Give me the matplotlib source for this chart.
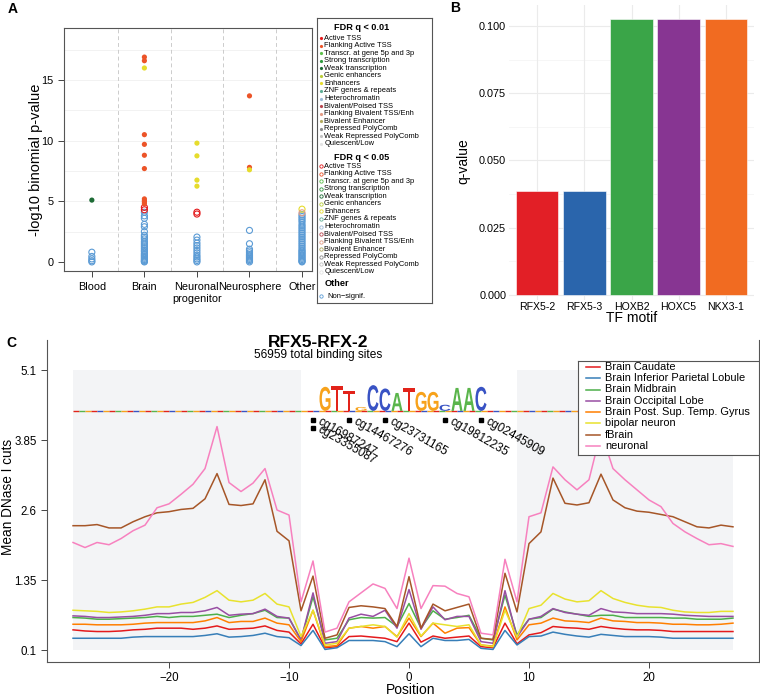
import numpy as np
import matplotlib
matplotlib.use('Agg')
import matplotlib.pyplot as plt
from matplotlib.textpath import TextPath
from matplotlib.patches import PathPatch, Rectangle
from matplotlib.font_manager import FontProperties
from matplotlib.transforms import Affine2D
from matplotlib.collections import LineCollection

plt.rcParams['font.family'] = ['Liberation Sans', 'DejaVu Sans']

# ---------------- DATA ----------------
# Panel A
a_categories = ["Blood", "Brain", "Neuronal\nprogenitor", "Neurosphere", "Other"]
a_states = ["Active TSS", "Flanking Active TSS", "Transcr. at gene 5p and 3p",
            "Strong transcription", "Weak transcription", "Genic enhancers",
            "Enhancers", "ZNF genes & repeats", "Heterochromatin",
            "Bivalent/Poised TSS", "Flanking Bivalent TSS/Enh", "Bivalent Enhancer",
            "Repressed PolyComb", "Weak Repressed PolyComb", "Quiescent/Low"]
a_state_colors = ["#e41a1c", "#ec5428", "#5cbf4a", "#2f9a3e", "#1d6b35", "#b9cc3a",
                  "#e6dc2c", "#5fae96", "#9bbad8", "#b8464f", "#e39b84", "#b3aa5e",
                  "#8a8a8a", "#c4c4c4", "#e4e4e4"]
a_nonsig_color = "#5b9bd5"

a_sig01_cat = [0, 1, 1, 1, 1, 1, 1, 1, 1, 1, 1, 1, 2, 2, 2, 2, 3, 3, 3]
a_sig01_val = [5.1, 16.9, 16.6, 10.5, 9.7, 8.8, 7.7, 5.2, 5.05, 4.95, 4.8, 16.0,
               9.8, 8.75, 6.75, 6.25, 13.7, 7.8, 7.6]
a_sig01_state = [4, 1, 1, 1, 1, 1, 1, 1, 1, 1, 1, 6, 6, 6, 6, 6, 1, 1, 6]

a_sig05_cat = [1, 1, 2, 2, 4, 4]
a_sig05_val = [4.5, 4.3, 4.1, 3.95, 4.35, 4.05]
a_sig05_state = [0, 0, 0, 0, 6, 10]

a_ns_blood = [0.0, 0.1, 0.25, 0.45, 0.8]
a_ns_brain = [4.1, 3.8, 3.6, 3.1, 2.9, 2.5, 2.2, 2.05, 1.9, 1.7, 1.55, 1.4, 1.25, 1.1,
              0.95, 0.85, 0.7, 0.6, 0.5, 0.4, 0.3, 0.2, 0.12, 0.05, 0.0]
a_ns_neuronal = [2.05, 1.8, 1.55, 1.35, 1.15, 0.95, 0.75, 0.55, 0.4, 0.25, 0.12, 0.0]
a_ns_neurosphere = [2.6, 1.5, 1.05, 0.9, 0.75, 0.6, 0.5, 0.4, 0.3, 0.2, 0.1, 0.0]
a_ns_other = [3.9, 3.75, 3.6, 3.45, 3.3, 3.1, 2.95, 2.8, 2.65, 2.5, 2.35, 2.2, 2.05,
              1.9, 1.75, 1.6, 1.45, 1.3, 1.15, 1.0, 0.9, 0.8, 0.7, 0.6, 0.5, 0.4,
              0.3, 0.2, 0.1, 0.05, 0.0]

# Panel B
b_motifs = ["RFX5-2", "RFX5-3", "HOXB2", "HOXC5", "NKX3-1"]
b_qvalues = [0.0386, 0.0386, 0.1025, 0.1025, 0.1025]
b_colors = ["#e21f26", "#2a65ac", "#3aa548", "#873592", "#f16b21"]

# Panel C
c_positions = list(range(-28, 28))
c_labels = ["Brain Caudate", "Brain Inferior Parietal Lobule", "Brain Midbrain",
            "Brain Occipital Lobe", "Brain Post. Sup. Temp. Gyrus", "bipolar neuron",
            "fBrain", "neuronal"]
c_colors = ["#e41a1c", "#377eb8", "#4daf4a", "#984ea3", "#ff7f00", "#e8e22e",
            "#a65628", "#f781bf"]
c_caudate = [0.46, 0.44, 0.43, 0.43, 0.44, 0.46, 0.47, 0.49, 0.49, 0.49, 0.47, 0.49,
             0.53, 0.47, 0.48, 0.49, 0.53, 0.45, 0.42, 0.21, 0.56, 0.14, 0.16, 0.34,
             0.35, 0.33, 0.31, 0.25, 0.58, 0.24, 0.35, 0.31, 0.33, 0.35, 0.16, 0.14,
             0.58, 0.21, 0.37, 0.41, 0.52, 0.50, 0.49, 0.47, 0.52, 0.49, 0.47, 0.46,
             0.46, 0.45, 0.43, 0.43, 0.43, 0.43, 0.43, 0.43]
c_parietal = [0.31, 0.31, 0.31, 0.31, 0.31, 0.33, 0.34, 0.34, 0.34, 0.34, 0.34, 0.36,
              0.39, 0.33, 0.34, 0.36, 0.40, 0.34, 0.32, 0.18, 0.45, 0.11, 0.14, 0.27,
              0.27, 0.27, 0.25, 0.16, 0.39, 0.16, 0.31, 0.27, 0.27, 0.29, 0.13, 0.11,
              0.45, 0.19, 0.34, 0.35, 0.42, 0.38, 0.35, 0.33, 0.38, 0.36, 0.34, 0.34,
              0.34, 0.33, 0.31, 0.31, 0.31, 0.31, 0.31, 0.31]
c_midbrain = [0.68, 0.67, 0.65, 0.65, 0.66, 0.67, 0.68, 0.70, 0.68, 0.70, 0.70, 0.72,
              0.74, 0.68, 0.72, 0.75, 0.81, 0.68, 0.67, 0.28, 1.05, 0.28, 0.31, 0.64,
              0.68, 0.67, 0.68, 0.52, 0.93, 0.49, 0.80, 0.65, 0.68, 0.72, 0.31, 0.28,
              1.08, 0.37, 0.65, 0.68, 0.83, 0.78, 0.74, 0.70, 0.72, 0.72, 0.68, 0.68,
              0.68, 0.68, 0.67, 0.67, 0.65, 0.65, 0.65, 0.67]
c_occipital = [0.71, 0.70, 0.68, 0.68, 0.69, 0.70, 0.72, 0.75, 0.75, 0.77, 0.77, 0.80,
               0.86, 0.72, 0.74, 0.75, 0.83, 0.70, 0.67, 0.28, 1.12, 0.22, 0.25, 0.67,
               0.74, 0.70, 0.81, 0.49, 1.18, 0.47, 0.87, 0.64, 0.70, 0.70, 0.25, 0.22,
               1.16, 0.33, 0.65, 0.70, 0.84, 0.77, 0.74, 0.72, 0.84, 0.78, 0.77, 0.75,
               0.75, 0.75, 0.74, 0.72, 0.71, 0.70, 0.70, 0.70]
c_temporal = [0.56, 0.56, 0.55, 0.55, 0.55, 0.56, 0.58, 0.59, 0.59, 0.59, 0.59, 0.62,
              0.68, 0.59, 0.61, 0.61, 0.67, 0.58, 0.55, 0.25, 0.81, 0.16, 0.18, 0.49,
              0.52, 0.49, 0.52, 0.34, 0.67, 0.34, 0.58, 0.40, 0.49, 0.50, 0.19, 0.17,
              0.87, 0.28, 0.55, 0.58, 0.67, 0.62, 0.61, 0.59, 0.67, 0.62, 0.61, 0.59,
              0.59, 0.58, 0.56, 0.56, 0.55, 0.55, 0.56, 0.58]
c_bipolar = [0.81, 0.80, 0.79, 0.77, 0.78, 0.80, 0.83, 0.87, 0.87, 0.92, 0.95, 1.04,
             1.16, 0.99, 0.96, 0.99, 1.11, 0.92, 0.87, 0.34, 0.81, 0.19, 0.22, 0.49,
             0.52, 0.55, 0.52, 0.33, 0.75, 0.35, 0.58, 0.55, 0.52, 0.55, 0.19, 0.16,
             0.81, 0.33, 0.84, 0.90, 1.11, 1.01, 0.96, 0.98, 1.16, 1.02, 0.95, 0.90,
             0.87, 0.86, 0.81, 0.78, 0.77, 0.77, 0.79, 0.79]
c_fbrain = [2.32, 2.32, 2.34, 2.28, 2.28, 2.39, 2.48, 2.55, 2.57, 2.61, 2.63, 2.80,
            3.25, 2.70, 2.68, 2.71, 3.14, 2.22, 2.05, 0.80, 1.42, 0.31, 0.37, 0.86,
            0.89, 0.87, 0.84, 0.52, 1.41, 0.49, 0.92, 0.80, 0.86, 0.92, 0.31, 0.29,
            1.47, 0.78, 2.00, 2.21, 3.17, 2.72, 2.69, 2.73, 3.24, 2.78, 2.64, 2.58,
            2.56, 2.52, 2.48, 2.39, 2.30, 2.28, 2.33, 2.30]
c_neuronal = [2.02, 1.93, 2.02, 1.98, 2.09, 2.23, 2.33, 2.64, 2.71, 2.88, 3.06, 3.34,
              4.09, 3.09, 2.93, 3.08, 3.34, 2.60, 2.51, 0.96, 1.69, 0.42, 0.49, 0.96,
              1.12, 1.28, 1.20, 0.84, 1.74, 0.84, 1.25, 1.24, 1.11, 1.05, 0.40, 0.37,
              1.72, 0.96, 2.48, 2.55, 3.37, 3.14, 2.96, 3.14, 4.00, 3.34, 3.14, 2.96,
              2.78, 2.66, 2.36, 2.21, 2.09, 1.98, 2.00, 1.95]
c_series = [c_caudate, c_parietal, c_midbrain, c_occipital, c_temporal, c_bipolar,
            c_fbrain, c_neuronal]
c_flanks = [(-28, -9), (9, 27)]
c_yticks = [0.1, 1.35, 2.6, 3.85, 5.1]

# motif logo
logo_pos = [-7, -6, -5, -4, -3, -2, -1, 0, 1, 2, 3, 4, 5, 6]
logo_letters = ["G", "T", "T", "G", "C", "C", "A", "T", "G", "G", "C", "A", "A", "C"]
logo_heights = [0.43, 0.45, 0.36, 0.07, 0.46, 0.40, 0.32, 0.40, 0.34, 0.34, 0.11,
                0.41, 0.41, 0.43]
logo_colors = {"A": "#5ab54b", "C": "#3953c4", "G": "#f7a21b", "T": "#e2231a"}
logo_base = 4.37

cpg_names = ["cg16987247", "cg23355087", "cg14467276", "cg23731165", "cg19812235",
             "cg02445909"]
cpg_pos = [-8, -8, -5, -2, 3, 6]
cpg_row = [0, 1, 0, 0, 0, 0]

# ---------------- FIGURE ----------------
W, H = 760, 697
fig = plt.figure(figsize=(7.6, 6.97), dpi=100)


def fr(x0, y0, x1, y1):
    return [x0 / W, 1 - y1 / H, (x1 - x0) / W, (y1 - y0) / H]


# ---------- Panel A ----------
axA = fig.add_axes(fr(64, 28, 312, 271))
axA.set_xlim(0.47, 5.19)
axA.set_ylim(-0.75, 19.3)
for yv in [2.5, 5, 7.5, 10, 12.5, 15, 17.5]:
    axA.axhline(yv, color='#f0f0f0', lw=0.6, zorder=0)
for xv in [1.5, 2.5, 3.5, 4.5]:
    axA.axvline(xv, color='#cccccc', ls=(0, (4, 3)), lw=0.7, zorder=0)

ns_groups = [a_ns_blood, a_ns_brain, a_ns_neuronal, a_ns_neurosphere, a_ns_other]
for i, vals in enumerate(ns_groups):
    axA.scatter([i + 1] * len(vals), vals, s=19, facecolors='none',
                edgecolors=a_nonsig_color, linewidths=0.8, zorder=2)
axA.scatter([c + 1 for c in a_sig05_cat], a_sig05_val, s=19, facecolors='none',
            edgecolors=[a_state_colors[s] for s in a_sig05_state], linewidths=0.8,
            zorder=3)
axA.scatter([c + 1 for c in a_sig01_cat], a_sig01_val, s=14,
            c=[a_state_colors[s] for s in a_sig01_state], edgecolors='none', zorder=4)

axA.set_xticks(range(1, 6))
axA.set_xticklabels(a_categories, fontsize=7.5)
axA.set_yticks([0, 5, 10, 15])
axA.tick_params(axis='both', labelsize=7.8, length=4, width=0.7, color='#444444')
axA.tick_params(axis='x', pad=4)
for s in axA.spines.values():
    s.set_linewidth(0.8)
    s.set_color('#555555')
fig.text(36 / W, 1 - 160 / H, "-log10 binomial p-value", ha='center', va='center',
         fontsize=10.5, rotation=90)

# legend A
axL = fig.add_axes(fr(317, 18, 432, 303))
axL.set_xlim(0, 115)
axL.set_ylim(285, 0)
axL.set_xticks([])
axL.set_yticks([])
for s in axL.spines.values():
    s.set_linewidth(0.8)
    s.set_color('#555555')
axL.text(45, 9, "FDR q < 0.01", ha='center', va='center', fontsize=6.6, weight='bold')
axL.text(45, 139, "FDR q < 0.05", ha='center', va='center', fontsize=6.6, weight='bold')
axL.text(20, 266, "Other", ha='center', va='center', fontsize=6.6, weight='bold')
for i, (name, col) in enumerate(zip(a_states, a_state_colors)):
    y1 = 20 + 7.57 * i
    y2 = 148 + 7.57 * i
    axL.plot(4, y1, 'o', ms=2.3, color=col, mec='none')
    axL.text(7.5, y1, name, va='center', ha='left', fontsize=5.4)
    axL.plot(4, y2, 'o', ms=2.4, mfc='none', mec=col, mew=0.6)
    axL.text(7.5, y2, name, va='center', ha='left', fontsize=5.4)
axL.plot(4, 278, 'o', ms=2.4, mfc='none', mec=a_nonsig_color, mew=0.6)
axL.text(10, 278, "Non\u2212signif.", va='center', ha='left', fontsize=5.4)

# ---------- Panel B ----------
axB = fig.add_axes(fr(509, 5, 754, 300))
xb = np.arange(1, len(b_motifs) + 1)
axB.set_xlim(0.4, 5.6)
axB.set_ylim(-0.0019, 0.1078)
for yv in [0.0125, 0.0375, 0.0625, 0.0875]:
    axB.axhline(yv, color='#f3f3f3', lw=0.5, zorder=0)
for yv in [0, 0.025, 0.05, 0.075, 0.1]:
    axB.axhline(yv, color='#ebebeb', lw=0.8, zorder=0)
for xv in xb:
    axB.axvline(xv, color='#ebebeb', lw=0.8, zorder=0)
axB.bar(xb, b_qvalues, width=0.9, color=b_colors, edgecolor='#ffffff', linewidth=0.4,
        zorder=2)
axB.set_xticks(xb)
axB.set_xticklabels(b_motifs, fontsize=7.6)
axB.set_yticks([0, 0.025, 0.05, 0.075, 0.1])
axB.set_yticklabels(["0.000", "0.025", "0.050", "0.075", "0.100"], fontsize=7.8)
axB.tick_params(length=0, pad=2)
axB.tick_params(axis='x', pad=1.5)
for s in axB.spines.values():
    s.set_visible(False)
fig.text(632 / W, 1 - 318 / H, "TF motif", ha='center', va='center', fontsize=10)
fig.text(463 / W, 1 - 161 / H, "q-value", ha='center', va='center', fontsize=10,
         rotation=90)

# ---------- Panel C ----------
axC = fig.add_axes(fr(47, 340, 759, 662))
axC.set_xlim(-30.17, 29.17)
axC.set_ylim(-0.114, 5.1 + 30 * 0.017857)
for (x0, x1) in c_flanks:
    axC.add_patch(Rectangle((x0, 0.1), x1 - x0, 5.0, facecolor='#f3f4f6',
                            edgecolor='none', zorder=0))
for vals, col in zip(c_series, c_colors):
    axC.plot(c_positions, vals, color=col, lw=1.1, zorder=3)

# baseline of logo
seg_cols = ["#e2231a", "#5ab54b", "#f7a21b", "#e2231a", "#3953c4", "#f7a21b"]
segs, cols = [], []
xs = np.arange(c_positions[0], c_positions[-1], 0.5)
for k, x0 in enumerate(xs):
    segs.append([(x0, logo_base), (x0 + 0.5, logo_base)])
    cols.append(seg_cols[k % len(seg_cols)])
axC.add_collection(LineCollection(segs, colors=cols, linewidths=1.0, zorder=4))

fp = FontProperties(family='Liberation Sans', weight='bold')
for p, ch, h in zip(logo_pos, logo_letters, logo_heights):
    tp = TextPath((0, 0), ch, size=1, prop=fp)
    bb = tp.get_extents()
    w = 0.92
    tr = Affine2D().translate(-bb.x0, -bb.y0).scale(w / bb.width, h / bb.height) \
        .translate(p - w / 2, logo_base)
    axC.add_patch(PathPatch(tr.transform_path(tp), facecolor=logo_colors[ch],
                            edgecolor='none', zorder=5))

for name, p, r in zip(cpg_names, cpg_pos, cpg_row):
    yv = 4.21 - 0.15 * r
    axC.plot(p, yv, 's', ms=2.2, color='black', zorder=6)
    axC.text(p + 0.45, yv - 0.01, name, rotation=-30, rotation_mode='anchor',
             ha='left', va='center', fontsize=8.6, zorder=6)

axC.set_yticks(c_yticks)
axC.set_yticklabels(["0.1", "1.35", "2.6", "3.85", "5.1"])
axC.set_xticks([-20, -10, 0, 10, 20])
axC.tick_params(labelsize=8.3, length=4, width=0.7, color='#444444')
axC.spines['top'].set_visible(False)
for s in ['left', 'bottom', 'right']:
    axC.spines[s].set_linewidth(0.8)
    axC.spines[s].set_color('#555555')
fig.text(411 / W, 1 - 690 / H, "Position", ha='center', va='center', fontsize=10)
fig.text(8 / W, 1 - 497 / H, "Mean DNase I cuts", ha='center', va='center',
         fontsize=9.8, rotation=90)
fig.text(318 / W, 1 - 342 / H, "RFX5-RFX-2", ha='center', va='center', fontsize=12.5,
         weight='bold')
fig.text(318 / W, 1 - 355 / H, "56959 total binding sites", ha='center', va='center',
         fontsize=8.6)

# legend C
axLC = fig.add_axes(fr(578, 361, 759, 455))
axLC.set_xlim(0, 181)
axLC.set_ylim(94, 0)
axLC.set_xticks([])
axLC.set_yticks([])
for s in axLC.spines.values():
    s.set_linewidth(0.8)
    s.set_color('#555555')
for i, (lab, col) in enumerate(zip(c_labels, c_colors)):
    yy = 6 + 11.25 * i
    axLC.plot([8, 22], [yy, yy], color=col, lw=1.1)
    axLC.text(27, yy, lab, ha='left', va='center', fontsize=7.9)

# panel letters
fig.text(8 / W, 1 - 9 / H, "A", ha='left', va='center', fontsize=10, weight='bold')
fig.text(450 / W, 1 - 8 / H, "B", ha='left', va='center', fontsize=10, weight='bold')
fig.text(6 / W, 1 - 343 / H, "C", ha='left', va='center', fontsize=10, weight='bold')

fig.savefig("out.png", dpi=100, facecolor='white')
